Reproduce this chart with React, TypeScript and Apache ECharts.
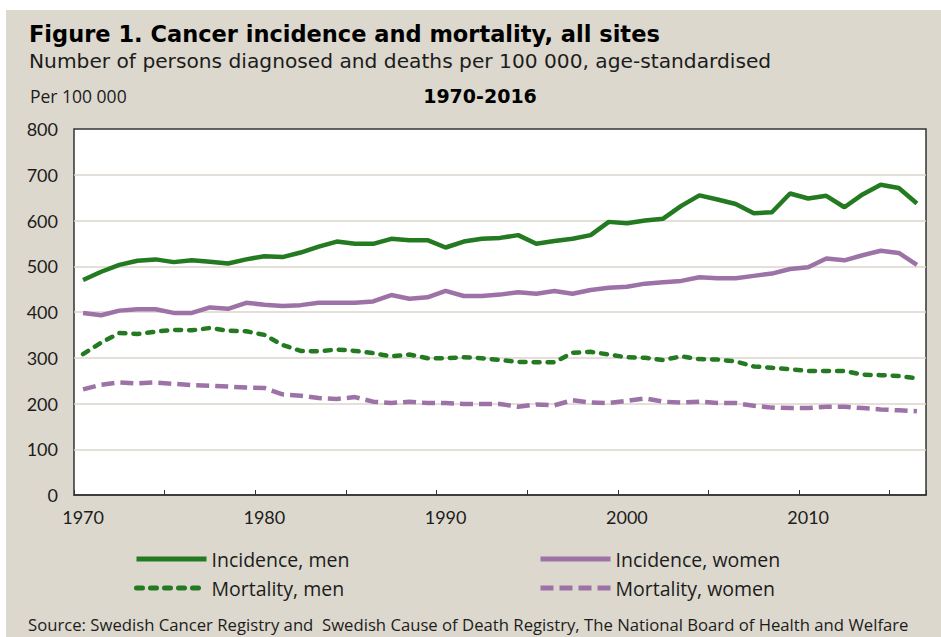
import React, { useEffect, useRef } from "react";
import * as echarts from "echarts";

const years: string[] = [];
for (let y = 1970; y <= 2016; y++) years.push(String(y));

const incidenceMen = [
  470, 488, 503, 512, 515, 509, 513, 510, 506, 515,
  522, 520, 530, 543, 554, 549, 549, 560, 557, 557,
  541, 554, 560, 562, 568, 549, 555, 560, 568, 597,
  594, 600, 604, 632, 655, 646, 636, 616, 618, 659,
  648, 654, 629, 657, 678, 671, 637,
];
const incidenceWomen = [
  398, 393, 403, 406, 406, 398, 398, 410, 407, 420,
  416, 413, 415, 420, 420, 420, 423, 437, 429, 432,
  446, 435, 435, 438, 443, 440, 446, 440, 448, 453,
  455, 462, 465, 468, 476, 474, 474, 479, 484, 494,
  498, 517, 513, 524, 534, 529, 503,
];
const mortalityMen = [
  308, 333, 354, 352, 357, 361, 360, 365, 359, 358,
  350, 328, 315, 314, 318, 315, 310, 303, 307, 299,
  299, 301, 299, 295, 291, 290, 290, 311, 313, 307,
  301, 300, 295, 303, 297, 296, 292, 281, 278, 275,
  271, 271, 271, 263, 262, 260, 255,
];
const mortalityWomen = [
  231, 241, 246, 244, 246, 243, 240, 239, 237, 235,
  234, 220, 217, 212, 210, 214, 204, 201, 204, 201,
  201, 199, 199, 199, 193, 198, 196, 207, 202, 201,
  206, 211, 204, 202, 204, 201, 201, 195, 191, 190,
  190, 193, 193, 190, 187, 185, 183,
];

const seriesNames = ["Incidence, men", "Incidence, women", "Mortality, men", "Mortality, women"];

const GREEN = "#237a20";
const PURPLE = "#9d73a7";
const BG = "#dcd8cd";
const TXT = "#1c1c1c";
const FONT = "Lato";
const FONT2 = "'Open Sans'";
const FONT3 = "'DejaVu Sans'";

export default function App() {
  const ref = useRef<HTMLDivElement>(null);
  useEffect(() => {
    document.body.style.margin = "0";
    document.body.style.background = "#ffffff";
    const chart = echarts.init(ref.current!, undefined, { renderer: "svg" });
    const legendBase = (name: string, left: number, top: number) => ({
      data: [name],
      left,
      top,
      padding: 0,
      itemWidth: 70,
      itemHeight: 14,
      itemStyle: { opacity: 0 },
      lineStyle: { width: 5 },
      textStyle: { fontFamily: "Open Sans", fontSize: 19.5, color: TXT },
    });
    chart.setOption({
      animation: false,
      backgroundColor: "#ffffff",
      textStyle: { fontFamily: FONT },
      graphic: [
        { type: "rect", z: -10, shape: { x: 6, y: 10, width: 935, height: 627 }, style: { fill: BG } },
        {
          type: "text", x: 29, y: 34,
          style: { text: "Figure 1. Cancer incidence and mortality, all sites", font: `bold 22.5px ${FONT3}`, fill: "#000", verticalAlign: "middle" },
        },
        {
          type: "text", x: 29, y: 61,
          style: { text: "Number of persons diagnosed and deaths per 100 000, age-standardised", font: `20.2px ${FONT3}`, fill: TXT, verticalAlign: "middle" },
        },
        {
          type: "text", x: 30, y: 96,
          style: { text: "Per 100 000", font: `17.5px ${FONT2}`, fill: TXT, verticalAlign: "middle" },
        },
        {
          type: "text", x: 480, y: 96,
          style: { text: "1970-2016", font: `bold 19px ${FONT3}`, fill: "#000", align: "center", verticalAlign: "middle" },
        },
        {
          type: "text", x: 28, y: 624,
          style: { text: "Source: Swedish Cancer Registry and  Swedish Cause of Death Registry, The National Board of Health and Welfare", font: `16.7px ${FONT2}`, fill: TXT, verticalAlign: "middle" },
        },
      ],
      legend: [
        legendBase(seriesNames[0], 134, 549),
        legendBase(seriesNames[1], 538, 549),
        legendBase(seriesNames[2], 134, 578),
        legendBase(seriesNames[3], 538, 578),
      ],
      grid: {
        left: 74, top: 129, width: 852, height: 366,
        show: true, backgroundColor: "#ffffff", borderColor: "#333333", borderWidth: 1.5,
      },
      xAxis: {
        type: "category",
        data: years,
        boundaryGap: true,
        axisLine: { show: true, lineStyle: { color: "#333333", width: 1.5 } },
        axisTick: { show: true, inside: true, length: 5, interval: 4, lineStyle: { color: "#333333" } },
        axisLabel: { interval: 9, fontSize: 18, color: TXT, margin: 13, fontFamily: FONT },
        splitLine: { show: false },
      },
      yAxis: {
        type: "value",
        min: 0, max: 800, interval: 100,
        axisLine: { show: false },
        axisTick: { show: false },
        axisLabel: { fontSize: 18, color: TXT, margin: 16, fontFamily: FONT },
        splitLine: { show: true, showMinLine: false, showMaxLine: false, lineStyle: { color: "#dbd6cc", width: 1.5 } },
      },
      series: [
        {
          name: seriesNames[0], type: "line", data: incidenceMen, symbol: "none",
          lineStyle: { color: GREEN, width: 4.5 }, itemStyle: { color: GREEN }, z: 4,
        },
        {
          name: seriesNames[1], type: "line", data: incidenceWomen, symbol: "none",
          lineStyle: { color: PURPLE, width: 4.5 }, itemStyle: { color: PURPLE }, z: 3,
        },
        {
          name: seriesNames[2], type: "line", data: mortalityMen, symbol: "none",
          lineStyle: { color: GREEN, width: 4.5, type: [6, 8], cap: "round" }, itemStyle: { color: GREEN }, z: 2,
        },
        {
          name: seriesNames[3], type: "line", data: mortalityWomen, symbol: "none",
          lineStyle: { color: PURPLE, width: 4.5, type: [13, 6], cap: "butt" }, itemStyle: { color: PURPLE }, z: 1,
        },
      ],
    });
    return () => chart.dispose();
  }, []);
  return <div ref={ref} style={{ width: 941, height: 637 }} />;
}
